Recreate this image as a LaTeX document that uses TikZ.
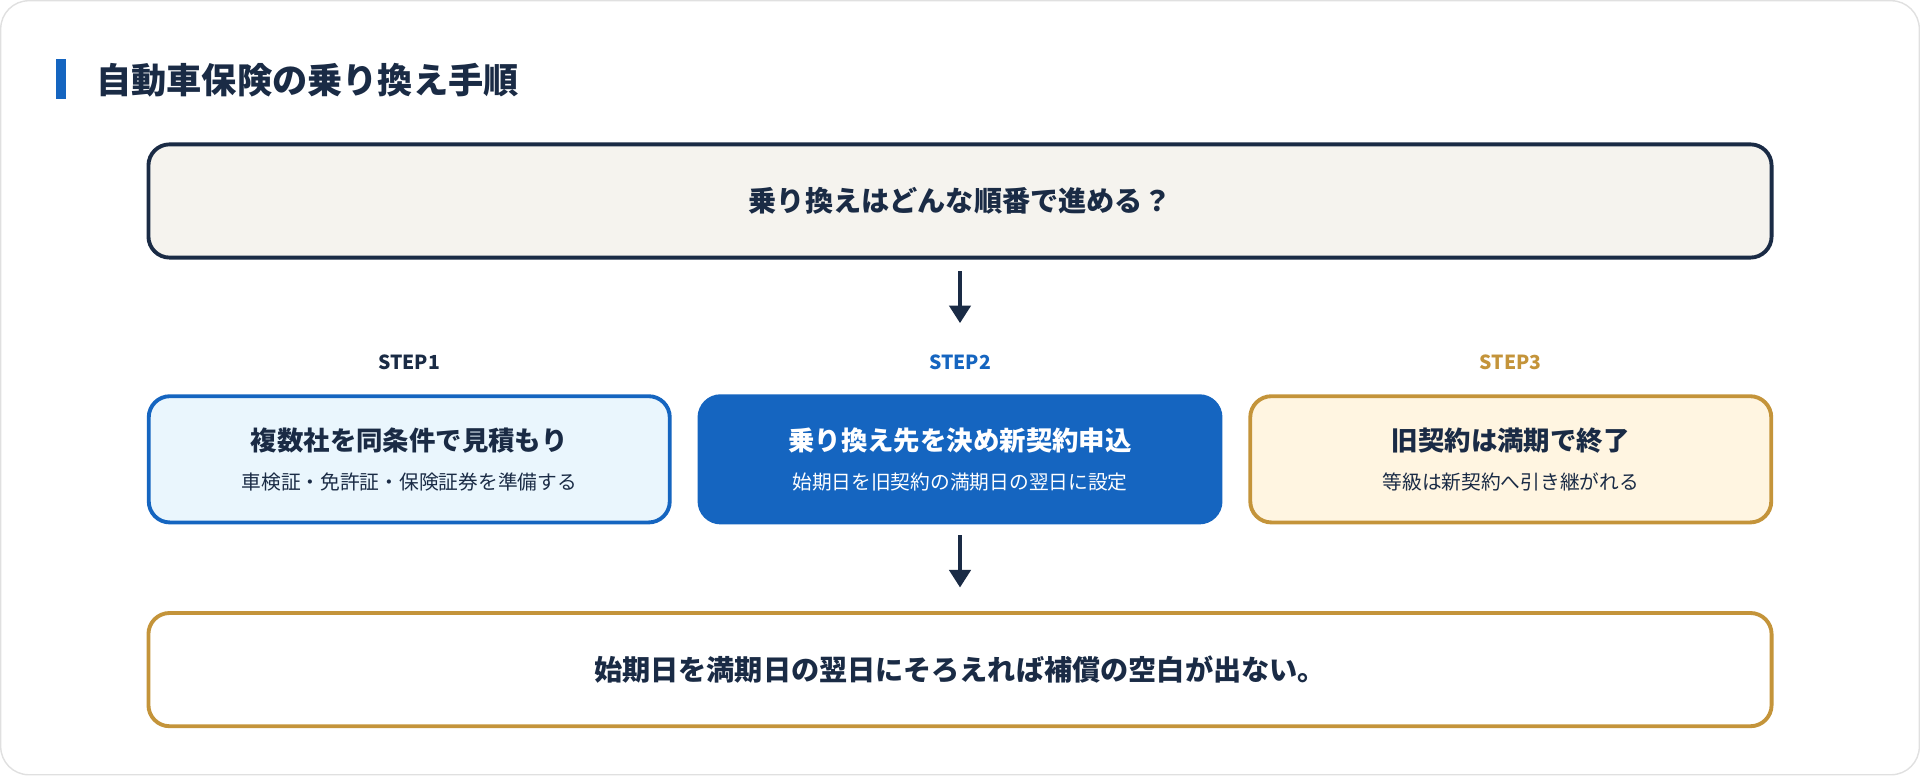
\documentclass[tikz,border=0pt]{standalone}
\usepackage{fontspec}
\setmainfont{Noto Sans CJK JP}
\usetikzlibrary{positioning,arrows.meta}
\definecolor{navy}{HTML}{1A2B45}
\definecolor{stepblue}{HTML}{1565C0}
\definecolor{gold}{HTML}{C4943A}
\definecolor{paleblue}{HTML}{EAF6FD}
\definecolor{palegold}{HTML}{FFF5E1}
\definecolor{cream}{HTML}{F5F3EE}
\begin{document}
\begin{tikzpicture}[x=0.01cm,y=-0.01cm,
  box/.style={draw,line width=1.1pt,rounded corners=6pt,minimum width=5.2cm,minimum height=1.26cm,align=center,font=\bfseries},
  wide box/.style={draw,line width=1.1pt,rounded corners=6pt,minimum width=16.2cm,minimum height=1.13cm,font=\bfseries\fontsize{8}{10}\selectfont,text=navy},
  step label/.style={font=\bfseries\fontsize{5.5}{7}\selectfont},
  down/.style={-{Triangle[length=5pt,width=6pt]},line width=1.2pt,draw=navy}]

  \draw[draw=black!12,fill=white,rounded corners=8pt] (2,2) rectangle (1918,775);
  \fill[stepblue] (57,60) rectangle (67,100);
  \node[anchor=west,font=\bfseries\fontsize{10}{12}\selectfont,text=navy] (title) at (85,81) {自動車保険の乗り換え手順};

  \node[wide box,draw=navy,fill=cream] (q) at (960,202) {乗り換えはどんな順番で進める？};

  \node[box,draw=stepblue,fill=paleblue,text=navy] (s1) at (410,460)
    {{\fontsize{7.5}{9}\selectfont 複数社を同条件で見積もり}\\[-1pt]{\fontsize{5.6}{7}\selectfont\mdseries 車検証・免許証・保険証券を準備する}};
  \node[box,draw=stepblue,fill=stepblue,text=white] (s2) at (960,460)
    {{\fontsize{7.5}{9}\selectfont 乗り換え先を決め新契約申込}\\[-1pt]{\fontsize{5.6}{7}\selectfont\mdseries 始期日を旧契約の満期日の翌日に設定}};
  \node[box,draw=gold,fill=palegold,text=navy] (s3) at (1510,460)
    {{\fontsize{7.5}{9}\selectfont 旧契約は満期で終了}\\[-1pt]{\fontsize{5.6}{7}\selectfont\mdseries 等級は新契約へ引き継がれる}};

  \node[step label,text=navy,above=0.12cm of s1] (l1) {STEP1};
  \node[step label,text=stepblue,above=0.12cm of s2] (l2) {STEP2};
  \node[step label,text=gold,above=0.12cm of s3] (l3) {STEP3};

  \node[wide box,draw=gold,fill=white] (res) at (960,670) {始期日を満期日の翌日にそろえれば補償の空白が出ない。};

  \coordinate (a1) at (960,272);
  \coordinate (b1) at (960,324);
  \coordinate (a2) at (960,536);
  \coordinate (b2) at (960,588);
  \draw[down] (a1) -- (b1);
  \draw[down] (a2) -- (b2);
\end{tikzpicture}
\end{document}
